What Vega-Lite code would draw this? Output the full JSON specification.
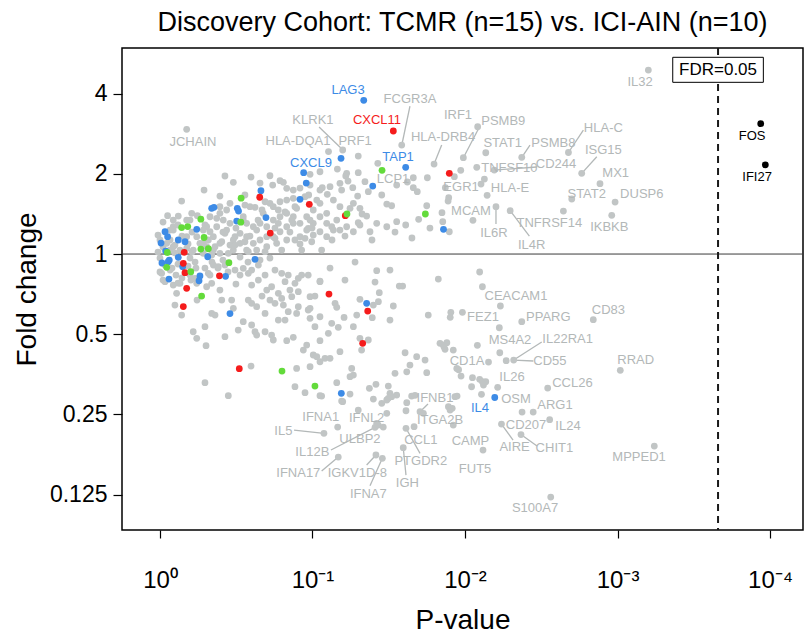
{
"$schema":"https://vega.github.io/schema/vega-lite/v6.json",
"width":681,"height":482,
"autosize":{"type":"none"},
"padding":{"left":122,"top":48,"right":1,"bottom":110},
"background":"white",
"title":{"text":"Discovery Cohort: TCMR (n=15) vs. ICI-AIN (n=10)","fontSize":27,"fontWeight":"normal","font":"Liberation Sans","offset":10,"color":"black"},
"config":{"view":{"stroke":"black","strokeWidth":1.5},"font":"Liberation Sans","axis":{"grid":false,"domain":false,"tickColor":"black","labelColor":"black","titleColor":"black","labelFont":"Liberation Sans","titleFont":"Liberation Sans","titleFontWeight":"normal"}},
"resolve":{"scale":{"color":"independent"}},
"datasets":{
"pts":[
{"nlp":0.175,"lfc":1.555,"grp":"n"},{"nlp":1.585,"lfc":1.359,"grp":"n"},{"nlp":1.198,"lfc":1.297,"grp":"n"},{"nlp":1.105,"lfc":1.278,"grp":"n"},{"nlp":1.300,"lfc":1.222,"grp":"n"},{"nlp":1.797,"lfc":1.122,"grp":"n"},{"nlp":1.622,"lfc":0.898,"grp":"n"},{"nlp":2.083,"lfc":1.587,"grp":"n"},{"nlp":1.989,"lfc":1.201,"grp":"n"},{"nlp":2.136,"lfc":1.263,"grp":"n"},{"nlp":2.372,"lfc":1.206,"grp":"n"},{"nlp":2.678,"lfc":1.266,"grp":"n"},{"nlp":2.077,"lfc":1.081,"grp":"n"},{"nlp":2.192,"lfc":1.047,"grp":"n"},{"nlp":2.765,"lfc":1.006,"grp":"n"},{"nlp":2.885,"lfc":0.877,"grp":"n"},{"nlp":1.930,"lfc":0.964,"grp":"n"},{"nlp":2.145,"lfc":0.732,"grp":"n"},{"nlp":2.700,"lfc":0.686,"grp":"n"},{"nlp":2.984,"lfc":0.648,"grp":"n"},{"nlp":2.052,"lfc":0.420,"grp":"n"},{"nlp":2.645,"lfc":0.536,"grp":"n"},{"nlp":2.962,"lfc":0.483,"grp":"n"},{"nlp":2.203,"lfc":0.590,"grp":"n"},{"nlp":2.296,"lfc":0.540,"grp":"n"},{"nlp":3.202,"lfc":2.294,"grp":"n"},
{"nlp":2.232,"lfc":-0.648,"grp":"n"},{"nlp":1.983,"lfc":-0.727,"grp":"n"},{"nlp":2.372,"lfc":-0.844,"grp":"n"},{"nlp":2.841,"lfc":-0.819,"grp":"n"},{"nlp":2.225,"lfc":-0.919,"grp":"n"},{"nlp":2.319,"lfc":-1.322,"grp":"n"},{"nlp":2.270,"lfc":-1.330,"grp":"n"},{"nlp":2.154,"lfc":-1.347,"grp":"n"},{"nlp":3.018,"lfc":-1.450,"grp":"n"},{"nlp":2.214,"lfc":-1.662,"grp":"n"},{"nlp":2.542,"lfc":-1.671,"grp":"n"},{"nlp":2.108,"lfc":-1.749,"grp":"n"},{"nlp":2.447,"lfc":-1.970,"grp":"n"},{"nlp":2.374,"lfc":-1.970,"grp":"n"},{"nlp":2.555,"lfc":-2.066,"grp":"n"},{"nlp":2.239,"lfc":-2.120,"grp":"n"},{"nlp":2.367,"lfc":-2.251,"grp":"n"},{"nlp":2.118,"lfc":-2.444,"grp":"n"},{"nlp":3.241,"lfc":-2.394,"grp":"n"},{"nlp":2.562,"lfc":-3.030,"grp":"n"},{"nlp":1.705,"lfc":-1.966,"grp":"n"},{"nlp":1.727,"lfc":-1.986,"grp":"n"},{"nlp":1.666,"lfc":-2.153,"grp":"n"},{"nlp":1.613,"lfc":-2.173,"grp":"n"},{"nlp":1.595,"lfc":-2.415,"grp":"n"},{"nlp":1.165,"lfc":-2.157,"grp":"n"},{"nlp":1.431,"lfc":-2.132,"grp":"n"},{"nlp":1.464,"lfc":-2.157,"grp":"n"},{"nlp":1.075,"lfc":-2.236,"grp":"n"},{"nlp":1.410,"lfc":-2.161,"grp":"n"},{"nlp":1.169,"lfc":-2.531,"grp":"n"},{"nlp":1.416,"lfc":-2.506,"grp":"n"},{"nlp":1.458,"lfc":-2.547,"grp":"n"},
{"nlp":0.142,"lfc":0.661,"grp":"n"},{"nlp":0.050,"lfc":0.478,"grp":"n"},{"nlp":0.087,"lfc":0.424,"grp":"n"},{"nlp":0.208,"lfc":0.507,"grp":"n"},{"nlp":0.245,"lfc":0.478,"grp":"n"},{"nlp":0.306,"lfc":0.340,"grp":"n"},{"nlp":0.372,"lfc":0.445,"grp":"n"},{"nlp":0.393,"lfc":0.507,"grp":"n"},{"nlp":0.459,"lfc":0.632,"grp":"n"},{"nlp":0.481,"lfc":0.894,"grp":"n"},{"nlp":0.597,"lfc":0.960,"grp":"n"},{"nlp":0.721,"lfc":0.976,"grp":"n"},{"nlp":0.739,"lfc":0.860,"grp":"n"},{"nlp":0.787,"lfc":0.914,"grp":"n"},{"nlp":0.809,"lfc":0.894,"grp":"n"},{"nlp":0.831,"lfc":0.819,"grp":"n"},{"nlp":0.623,"lfc":0.582,"grp":"n"},{"nlp":0.721,"lfc":0.632,"grp":"n"},{"nlp":0.743,"lfc":0.590,"grp":"n"},{"nlp":0.787,"lfc":0.652,"grp":"n"},{"nlp":0.831,"lfc":0.673,"grp":"n"},{"nlp":0.874,"lfc":0.695,"grp":"n"},{"nlp":0.896,"lfc":0.570,"grp":"n"},{"nlp":0.984,"lfc":0.994,"grp":"n"},{"nlp":0.975,"lfc":0.736,"grp":"n"},{"nlp":1.028,"lfc":0.673,"grp":"n"},{"nlp":1.064,"lfc":0.827,"grp":"n"},{"nlp":1.097,"lfc":0.744,"grp":"n"},{"nlp":1.163,"lfc":1.060,"grp":"n"},{"nlp":1.180,"lfc":0.882,"grp":"n"},{"nlp":1.191,"lfc":0.798,"grp":"n"},{"nlp":1.218,"lfc":0.973,"grp":"n"},{"nlp":1.233,"lfc":0.910,"grp":"n"},{"nlp":1.264,"lfc":0.827,"grp":"n"},{"nlp":1.300,"lfc":1.014,"grp":"n"},{"nlp":1.296,"lfc":0.723,"grp":"n"},{"nlp":1.344,"lfc":0.902,"grp":"n"},{"nlp":1.366,"lfc":0.777,"grp":"n"},{"nlp":1.428,"lfc":1.131,"grp":"n"},{"nlp":1.454,"lfc":0.736,"grp":"n"},{"nlp":1.487,"lfc":0.623,"grp":"n"},{"nlp":1.519,"lfc":0.602,"grp":"n"},{"nlp":1.552,"lfc":0.403,"grp":"n"},{"nlp":1.611,"lfc":0.362,"grp":"n"},{"nlp":1.661,"lfc":0.951,"grp":"n"},{"nlp":1.661,"lfc":0.827,"grp":"n"},{"nlp":1.687,"lfc":0.777,"grp":"n"},{"nlp":1.753,"lfc":0.951,"grp":"n"},{"nlp":1.749,"lfc":0.602,"grp":"n"},{"nlp":1.696,"lfc":0.433,"grp":"n"},{"nlp":1.849,"lfc":0.515,"grp":"n"},{"nlp":1.854,"lfc":0.403,"grp":"n"},{"nlp":1.897,"lfc":0.278,"grp":"n"},{"nlp":1.871,"lfc":0.827,"grp":"n"},{"nlp":1.893,"lfc":0.702,"grp":"n"},{"nlp":1.889,"lfc":0.661,"grp":"n"},{"nlp":1.972,"lfc":1.044,"grp":"n"},{"nlp":2.127,"lfc":0.935,"grp":"n"},{"nlp":2.105,"lfc":0.873,"grp":"n"},
{"nlp":1.300,"lfc":0.390,"grp":"n"},{"nlp":1.311,"lfc":0.362,"grp":"n"},{"nlp":1.355,"lfc":0.474,"grp":"n"},{"nlp":1.377,"lfc":0.278,"grp":"n"},{"nlp":1.421,"lfc":0.383,"grp":"n"},{"nlp":1.487,"lfc":0.340,"grp":"n"},{"nlp":1.246,"lfc":0.570,"grp":"n"},{"nlp":1.137,"lfc":0.299,"grp":"n"},{"nlp":1.093,"lfc":0.383,"grp":"n"},{"nlp":1.049,"lfc":0.278,"grp":"n"},{"nlp":0.962,"lfc":0.299,"grp":"n"},{"nlp":0.918,"lfc":0.383,"grp":"n"},{"nlp":0.874,"lfc":0.465,"grp":"n"},{"nlp":0.831,"lfc":0.340,"grp":"n"},{"nlp":0.787,"lfc":0.278,"grp":"n"},{"nlp":0.743,"lfc":0.216,"grp":"n"},{"nlp":0.700,"lfc":0.216,"grp":"n"},{"nlp":0.656,"lfc":0.175,"grp":"n"},{"nlp":0.612,"lfc":0.133,"grp":"n"},{"nlp":0.568,"lfc":0.216,"grp":"n"},{"nlp":0.525,"lfc":0.133,"grp":"n"},{"nlp":0.481,"lfc":0.175,"grp":"n"},{"nlp":0.437,"lfc":0.299,"grp":"n"},{"nlp":0.393,"lfc":0.133,"grp":"n"},{"nlp":0.350,"lfc":0.216,"grp":"n"},{"nlp":0.306,"lfc":0.091,"grp":"n"},{"nlp":0.262,"lfc":0.133,"grp":"n"},{"nlp":0.218,"lfc":0.050,"grp":"n"},{"nlp":0.175,"lfc":0.071,"grp":"n"},{"nlp":0.131,"lfc":0.050,"grp":"n"},{"nlp":0.087,"lfc":0.091,"grp":"n"},
{"nlp":0.459,"lfc":0.383,"grp":"n"},{"nlp":0.415,"lfc":0.424,"grp":"n"},{"nlp":0.372,"lfc":0.340,"grp":"n"},{"nlp":0.328,"lfc":0.278,"grp":"n"},{"nlp":0.284,"lfc":0.299,"grp":"n"},{"nlp":0.568,"lfc":0.383,"grp":"n"},{"nlp":0.612,"lfc":0.340,"grp":"n"},{"nlp":0.656,"lfc":0.383,"grp":"n"},{"nlp":0.700,"lfc":0.340,"grp":"n"},{"nlp":0.743,"lfc":0.424,"grp":"n"},{"nlp":0.787,"lfc":0.465,"grp":"n"},{"nlp":0.831,"lfc":0.507,"grp":"n"},{"nlp":0.874,"lfc":0.383,"grp":"n"},{"nlp":0.962,"lfc":0.465,"grp":"n"},{"nlp":1.005,"lfc":0.383,"grp":"n"},{"nlp":1.049,"lfc":0.465,"grp":"n"},{"nlp":1.093,"lfc":0.507,"grp":"n"},{"nlp":1.159,"lfc":0.424,"grp":"n"},{"nlp":1.180,"lfc":0.299,"grp":"n"},{"nlp":1.224,"lfc":0.340,"grp":"n"},{"nlp":1.268,"lfc":0.278,"grp":"n"},{"nlp":1.093,"lfc":0.216,"grp":"n"},{"nlp":1.005,"lfc":0.237,"grp":"n"},{"nlp":0.918,"lfc":0.216,"grp":"n"},{"nlp":0.831,"lfc":0.175,"grp":"n"},{"nlp":0.765,"lfc":0.133,"grp":"n"},{"nlp":0.700,"lfc":0.091,"grp":"n"},{"nlp":0.634,"lfc":0.050,"grp":"n"},{"nlp":0.568,"lfc":0.050,"grp":"n"},{"nlp":0.481,"lfc":0.050,"grp":"n"},{"nlp":0.393,"lfc":0.009,"grp":"n"},{"nlp":0.350,"lfc":0.050,"grp":"n"},{"nlp":0.459,"lfc":0.112,"grp":"n"},{"nlp":0.677,"lfc":0.507,"grp":"n"},{"nlp":0.590,"lfc":0.590,"grp":"n"},{"nlp":0.546,"lfc":0.465,"grp":"n"},{"nlp":0.437,"lfc":0.549,"grp":"n"},{"nlp":0.393,"lfc":0.590,"grp":"n"},{"nlp":0.328,"lfc":0.465,"grp":"n"},{"nlp":0.175,"lfc":0.424,"grp":"n"},{"nlp":0.087,"lfc":0.340,"grp":"n"},{"nlp":0.066,"lfc":0.175,"grp":"n"},{"nlp":0.175,"lfc":0.216,"grp":"n"},{"nlp":0.241,"lfc":0.216,"grp":"n"},{"nlp":0.284,"lfc":0.133,"grp":"n"},{"nlp":0.044,"lfc":0.133,"grp":"n"},
{"nlp":-0.013,"lfc":0.237,"grp":"n"},{"nlp":0.0,"lfc":0.175,"grp":"n"},{"nlp":0.020,"lfc":0.087,"grp":"n"},{"nlp":-0.013,"lfc":0.025,"grp":"n"},{"nlp":0.066,"lfc":0.050,"grp":"n"},{"nlp":0.098,"lfc":0.012,"grp":"n"},{"nlp":0.0,"lfc":-0.050,"grp":"n"},{"nlp":0.033,"lfc":-0.137,"grp":"n"},{"nlp":0.079,"lfc":-0.175,"grp":"n"},{"nlp":0.118,"lfc":-0.125,"grp":"n"},{"nlp":0.197,"lfc":-0.050,"grp":"n"},{"nlp":0.230,"lfc":-0.100,"grp":"n"},{"nlp":0.184,"lfc":-0.150,"grp":"n"},{"nlp":0.210,"lfc":0.025,"grp":"n"},{"nlp":0.105,"lfc":-0.262,"grp":"n"},{"nlp":0.0,"lfc":-0.224,"grp":"n"},{"nlp":0.020,"lfc":-0.324,"grp":"n"},{"nlp":0.118,"lfc":-0.362,"grp":"n"},{"nlp":0.203,"lfc":-0.324,"grp":"n"},{"nlp":0.295,"lfc":-0.175,"grp":"n"},{"nlp":0.341,"lfc":-0.100,"grp":"n"},{"nlp":0.380,"lfc":-0.175,"grp":"n"},{"nlp":0.328,"lfc":-0.262,"grp":"n"},{"nlp":0.413,"lfc":-0.075,"grp":"n"},{"nlp":0.525,"lfc":-0.037,"grp":"n"},{"nlp":0.577,"lfc":-0.100,"grp":"n"},{"nlp":0.656,"lfc":-0.075,"grp":"n"},{"nlp":0.721,"lfc":-0.050,"grp":"n"},{"nlp":0.098,"lfc":0.112,"grp":"n"},{"nlp":0.144,"lfc":0.224,"grp":"n"},{"nlp":0.184,"lfc":0.125,"grp":"n"},{"nlp":0.066,"lfc":0.299,"grp":"n"},{"nlp":0.210,"lfc":0.274,"grp":"n"},
{"nlp":0.011,"lfc":-0.241,"grp":"n"},{"nlp":0.033,"lfc":-0.345,"grp":"n"},{"nlp":0.087,"lfc":-0.387,"grp":"n"},{"nlp":0.109,"lfc":-0.490,"grp":"n"},{"nlp":0.142,"lfc":-0.761,"grp":"n"},{"nlp":0.131,"lfc":-0.365,"grp":"n"},{"nlp":0.197,"lfc":-0.262,"grp":"n"},{"nlp":0.230,"lfc":-0.303,"grp":"n"},{"nlp":0.241,"lfc":-0.365,"grp":"n"},{"nlp":0.317,"lfc":-0.241,"grp":"n"},{"nlp":0.339,"lfc":-0.365,"grp":"n"},{"nlp":0.306,"lfc":-0.408,"grp":"n"},{"nlp":0.350,"lfc":-0.137,"grp":"n"},{"nlp":0.382,"lfc":-0.158,"grp":"n"},{"nlp":0.426,"lfc":-0.137,"grp":"n"},{"nlp":0.492,"lfc":-0.200,"grp":"n"},{"nlp":0.525,"lfc":-0.262,"grp":"n"},{"nlp":0.546,"lfc":-0.178,"grp":"n"},{"nlp":0.579,"lfc":-0.241,"grp":"n"},{"nlp":0.601,"lfc":-0.200,"grp":"n"},{"nlp":0.645,"lfc":-0.137,"grp":"n"},{"nlp":0.689,"lfc":-0.262,"grp":"n"},{"nlp":0.754,"lfc":-0.200,"grp":"n"},{"nlp":0.798,"lfc":-0.241,"grp":"n"},{"nlp":0.820,"lfc":-0.345,"grp":"n"},{"nlp":0.841,"lfc":-0.262,"grp":"n"},{"nlp":0.885,"lfc":-0.365,"grp":"n"},{"nlp":0.907,"lfc":-0.303,"grp":"n"},{"nlp":0.972,"lfc":-0.262,"grp":"n"},{"nlp":1.049,"lfc":-0.345,"grp":"n"},{"nlp":0.645,"lfc":-0.324,"grp":"n"},{"nlp":0.732,"lfc":-0.408,"grp":"n"},{"nlp":0.776,"lfc":-0.490,"grp":"n"},{"nlp":0.700,"lfc":-0.449,"grp":"n"},{"nlp":0.601,"lfc":-0.387,"grp":"n"},{"nlp":0.579,"lfc":-0.574,"grp":"n"},{"nlp":0.601,"lfc":-0.615,"grp":"n"},{"nlp":0.634,"lfc":-0.657,"grp":"n"},{"nlp":0.689,"lfc":-0.740,"grp":"n"},{"nlp":0.721,"lfc":-0.574,"grp":"n"},{"nlp":0.754,"lfc":-0.615,"grp":"n"},{"nlp":0.798,"lfc":-0.553,"grp":"n"},{"nlp":0.809,"lfc":-0.636,"grp":"n"},{"nlp":0.841,"lfc":-0.719,"grp":"n"},{"nlp":0.907,"lfc":-0.657,"grp":"n"},{"nlp":0.896,"lfc":-0.740,"grp":"n"},{"nlp":0.972,"lfc":-0.698,"grp":"n"},{"nlp":0.984,"lfc":-0.532,"grp":"n"},{"nlp":0.907,"lfc":-0.470,"grp":"n"},{"nlp":0.864,"lfc":-0.532,"grp":"n"},{"nlp":0.405,"lfc":-0.574,"grp":"n"},{"nlp":0.339,"lfc":-0.740,"grp":"n"},{"nlp":0.361,"lfc":-0.761,"grp":"n"},{"nlp":0.218,"lfc":-0.969,"grp":"n"},{"nlp":0.295,"lfc":-0.906,"grp":"n"},{"nlp":0.481,"lfc":-0.677,"grp":"n"},{"nlp":0.470,"lfc":-0.574,"grp":"n"},{"nlp":0.546,"lfc":-0.844,"grp":"n"},{"nlp":0.513,"lfc":-0.948,"grp":"n"},{"nlp":0.601,"lfc":-0.885,"grp":"n"},{"nlp":0.623,"lfc":-0.969,"grp":"n"},{"nlp":0.689,"lfc":-0.969,"grp":"n"},{"nlp":0.776,"lfc":-0.823,"grp":"n"},{"nlp":0.820,"lfc":-0.823,"grp":"n"},{"nlp":0.426,"lfc":-1.031,"grp":"n"},{"nlp":0.241,"lfc":-1.051,"grp":"n"},
{"nlp":1.421,"lfc":-0.208,"grp":"n"},{"nlp":1.410,"lfc":-0.349,"grp":"n"},{"nlp":1.438,"lfc":-0.482,"grp":"n"},{"nlp":1.311,"lfc":-0.565,"grp":"n"},{"nlp":1.399,"lfc":-0.636,"grp":"n"},{"nlp":1.432,"lfc":-0.594,"grp":"n"},{"nlp":1.530,"lfc":-0.648,"grp":"n"},{"nlp":1.508,"lfc":-0.823,"grp":"n"},{"nlp":1.392,"lfc":-0.794,"grp":"n"},{"nlp":1.569,"lfc":-0.399,"grp":"n"},{"nlp":1.591,"lfc":-0.399,"grp":"n"},{"nlp":1.825,"lfc":-0.312,"grp":"n"},{"nlp":1.759,"lfc":-0.761,"grp":"n"},{"nlp":1.049,"lfc":-0.337,"grp":"n"},{"nlp":0.929,"lfc":-0.262,"grp":"n"},{"nlp":1.159,"lfc":-0.665,"grp":"n"},{"nlp":1.148,"lfc":-0.615,"grp":"n"},{"nlp":1.207,"lfc":-0.790,"grp":"n"},{"nlp":1.268,"lfc":-0.906,"grp":"n"},{"nlp":1.290,"lfc":-0.761,"grp":"n"},{"nlp":1.311,"lfc":-1.051,"grp":"n"},{"nlp":1.366,"lfc":-1.072,"grp":"n"},{"nlp":1.322,"lfc":-1.197,"grp":"n"},{"nlp":1.126,"lfc":-0.864,"grp":"n"},{"nlp":1.169,"lfc":-0.914,"grp":"n"},{"nlp":1.104,"lfc":-0.989,"grp":"n"},{"nlp":1.049,"lfc":-1.081,"grp":"n"},{"nlp":1.016,"lfc":-0.906,"grp":"n"},{"nlp":1.049,"lfc":-0.782,"grp":"n"},{"nlp":0.984,"lfc":-0.802,"grp":"n"},{"nlp":0.984,"lfc":-0.677,"grp":"n"},{"nlp":0.940,"lfc":-1.197,"grp":"n"},{"nlp":0.962,"lfc":-1.135,"grp":"n"},{"nlp":1.005,"lfc":-1.259,"grp":"n"},{"nlp":1.028,"lfc":-1.280,"grp":"n"},{"nlp":1.049,"lfc":-1.343,"grp":"n"},{"nlp":1.082,"lfc":-1.301,"grp":"n"},{"nlp":1.115,"lfc":-1.301,"grp":"n"},{"nlp":1.180,"lfc":-1.218,"grp":"n"},{"nlp":0.984,"lfc":-1.405,"grp":"n"},{"nlp":0.896,"lfc":-1.426,"grp":"n"},{"nlp":0.885,"lfc":-1.654,"grp":"n"},{"nlp":0.951,"lfc":-1.729,"grp":"n"},{"nlp":1.049,"lfc":-1.766,"grp":"n"},{"nlp":1.159,"lfc":-1.604,"grp":"n"},{"nlp":1.246,"lfc":-1.746,"grp":"n"},{"nlp":1.198,"lfc":-1.841,"grp":"n"},{"nlp":1.268,"lfc":-1.509,"grp":"n"},{"nlp":1.257,"lfc":-1.426,"grp":"n"},{"nlp":1.246,"lfc":-1.529,"grp":"n"},{"nlp":1.300,"lfc":-1.945,"grp":"n"},{"nlp":1.373,"lfc":-1.675,"grp":"n"},{"nlp":1.416,"lfc":-1.625,"grp":"n"},{"nlp":1.399,"lfc":-1.808,"grp":"n"},{"nlp":1.454,"lfc":-1.862,"grp":"n"},{"nlp":1.487,"lfc":-1.986,"grp":"n"},{"nlp":1.497,"lfc":-1.646,"grp":"n"},{"nlp":1.508,"lfc":-1.737,"grp":"n"},{"nlp":1.487,"lfc":-1.820,"grp":"n"},{"nlp":1.552,"lfc":-1.758,"grp":"n"},{"nlp":1.519,"lfc":-1.779,"grp":"n"},{"nlp":1.541,"lfc":-1.488,"grp":"n"},{"nlp":1.618,"lfc":-1.468,"grp":"n"},{"nlp":1.607,"lfc":-1.231,"grp":"n"},{"nlp":1.683,"lfc":-1.280,"grp":"n"},{"nlp":1.738,"lfc":-1.322,"grp":"n"},{"nlp":1.639,"lfc":-1.384,"grp":"n"},{"nlp":1.749,"lfc":-1.480,"grp":"n"},{"nlp":1.672,"lfc":-1.762,"grp":"n"},{"nlp":1.618,"lfc":-1.854,"grp":"n"},{"nlp":1.613,"lfc":-1.954,"grp":"n"},{"nlp":1.421,"lfc":-2.111,"grp":"n"},{"nlp":0.295,"lfc":-1.604,"grp":"n"},{"nlp":0.448,"lfc":-1.766,"grp":"n"},{"nlp":0.597,"lfc":-1.397,"grp":"n"},{"nlp":1.836,"lfc":-1.113,"grp":"n"},{"nlp":1.869,"lfc":-1.188,"grp":"n"},{"nlp":1.858,"lfc":-1.135,"grp":"n"},{"nlp":1.923,"lfc":-1.197,"grp":"n"},{"nlp":1.946,"lfc":-1.426,"grp":"n"},{"nlp":1.934,"lfc":-1.779,"grp":"n"},{"nlp":1.891,"lfc":-1.904,"grp":"n"},{"nlp":1.902,"lfc":-1.945,"grp":"n"},{"nlp":1.923,"lfc":-2.132,"grp":"n"},{"nlp":0.831,"lfc":-1.081,"grp":"n"},{"nlp":0.874,"lfc":-1.039,"grp":"n"},{"nlp":0.743,"lfc":-1.072,"grp":"n"},{"nlp":0.732,"lfc":-1.010,"grp":"n"},{"nlp":0.634,"lfc":-1.010,"grp":"n"},{"nlp":0.302,"lfc":-1.143,"grp":"n"},
{"nlp":2.096,"lfc":-0.224,"grp":"n"},{"nlp":2.114,"lfc":-0.408,"grp":"n"},{"nlp":1.907,"lfc":-0.727,"grp":"n"},{"nlp":1.903,"lfc":-0.789,"grp":"n"},{"nlp":1.881,"lfc":-1.106,"grp":"n"},{"nlp":1.862,"lfc":-1.156,"grp":"n"},{"nlp":2.081,"lfc":-1.138,"grp":"n"},{"nlp":2.228,"lfc":-1.231,"grp":"n"},{"nlp":1.958,"lfc":-1.443,"grp":"n"},{"nlp":1.974,"lfc":-1.521,"grp":"n"},{"nlp":2.049,"lfc":-1.542,"grp":"n"},{"nlp":2.096,"lfc":-1.562,"grp":"n"},{"nlp":2.114,"lfc":-1.592,"grp":"n"},{"nlp":2.136,"lfc":-1.592,"grp":"n"},{"nlp":2.121,"lfc":-1.633,"grp":"n"},{"nlp":2.043,"lfc":-1.655,"grp":"n"},{"nlp":1.948,"lfc":-1.771,"grp":"n"},{"nlp":1.916,"lfc":-1.924,"grp":"n"},
{"nlp":1.060,"lfc":-1.771,"grp":"n"},{"nlp":1.191,"lfc":-1.833,"grp":"n"},{"nlp":1.497,"lfc":-1.799,"grp":"n"},{"nlp":1.650,"lfc":-1.771,"grp":"n"},
{"nlp":1.049,"lfc":1.026,"grp":"n"},{"nlp":1.224,"lfc":1.006,"grp":"n"},{"nlp":1.552,"lfc":0.860,"grp":"n"},{"nlp":1.049,"lfc":0.632,"grp":"n"},{"nlp":1.005,"lfc":0.549,"grp":"n"},{"nlp":1.137,"lfc":0.673,"grp":"n"},{"nlp":1.180,"lfc":0.590,"grp":"n"},{"nlp":1.268,"lfc":0.632,"grp":"n"},{"nlp":1.311,"lfc":0.570,"grp":"n"},{"nlp":1.115,"lfc":0.840,"grp":"n"},{"nlp":1.049,"lfc":0.798,"grp":"n"},{"nlp":1.126,"lfc":0.340,"grp":"n"},
{"nlp":0.120,"lfc":0.474,"grp":"n"},{"nlp":0.874,"lfc":0.798,"grp":"n"},{"nlp":0.984,"lfc":0.860,"grp":"n"},{"nlp":0.557,"lfc":0.611,"grp":"n"},{"nlp":0.689,"lfc":0.652,"grp":"n"},{"nlp":0.776,"lfc":0.549,"grp":"n"},{"nlp":0.885,"lfc":0.590,"grp":"n"},{"nlp":0.951,"lfc":0.715,"grp":"n"},{"nlp":0.984,"lfc":0.424,"grp":"n"},{"nlp":0.972,"lfc":0.320,"grp":"n"},{"nlp":0.864,"lfc":0.424,"grp":"n"},{"nlp":0.776,"lfc":0.383,"grp":"n"},{"nlp":0.634,"lfc":0.299,"grp":"n"},{"nlp":0.546,"lfc":0.424,"grp":"n"},{"nlp":0.525,"lfc":0.258,"grp":"n"},{"nlp":0.492,"lfc":0.216,"grp":"n"},{"nlp":0.426,"lfc":0.258,"grp":"n"},{"nlp":0.405,"lfc":0.153,"grp":"n"},{"nlp":0.317,"lfc":0.175,"grp":"n"},{"nlp":0.361,"lfc":0.091,"grp":"n"},{"nlp":0.492,"lfc":0.112,"grp":"n"},{"nlp":0.557,"lfc":0.153,"grp":"n"},{"nlp":0.754,"lfc":0.196,"grp":"n"},{"nlp":0.885,"lfc":0.175,"grp":"n"},{"nlp":0.951,"lfc":0.196,"grp":"n"},{"nlp":0.995,"lfc":0.153,"grp":"n"},{"nlp":0.284,"lfc":0.009,"grp":"n"},{"nlp":0.087,"lfc":0.299,"grp":"n"},{"nlp":0.339,"lfc":-0.012,"grp":"n"},{"nlp":0.448,"lfc":0.009,"grp":"n"},{"nlp":0.579,"lfc":0.029,"grp":"n"},{"nlp":0.689,"lfc":0.029,"grp":"n"},{"nlp":0.798,"lfc":0.050,"grp":"n"},{"nlp":0.929,"lfc":0.050,"grp":"n"},{"nlp":1.060,"lfc":0.050,"grp":"n"},
{"nlp":0.020,"lfc":0.399,"grp":"n"},{"nlp":0.118,"lfc":0.362,"grp":"n"},{"nlp":0.197,"lfc":0.424,"grp":"n"},{"nlp":0.295,"lfc":0.362,"grp":"n"},{"nlp":0.413,"lfc":0.274,"grp":"n"},{"nlp":0.498,"lfc":0.324,"grp":"n"},{"nlp":0.590,"lfc":0.224,"grp":"n"},{"nlp":0.643,"lfc":0.424,"grp":"n"},{"nlp":0.754,"lfc":0.324,"grp":"n"},{"nlp":0.852,"lfc":0.274,"grp":"n"},{"nlp":0.918,"lfc":0.125,"grp":"n"},{"nlp":0.997,"lfc":0.324,"grp":"n"},{"nlp":1.128,"lfc":0.175,"grp":"n"},{"nlp":1.213,"lfc":0.224,"grp":"n"},{"nlp":1.325,"lfc":0.499,"grp":"n"},{"nlp":1.390,"lfc":0.175,"grp":"n"},{"nlp":1.541,"lfc":0.274,"grp":"n"},{"nlp":1.652,"lfc":0.200,"grp":"n"},{"nlp":1.770,"lfc":0.324,"grp":"n"},{"nlp":0.820,"lfc":0.524,"grp":"n"},{"nlp":0.669,"lfc":0.549,"grp":"n"},{"nlp":0.557,"lfc":0.736,"grp":"n"},{"nlp":0.393,"lfc":0.723,"grp":"n"},{"nlp":0.918,"lfc":0.823,"grp":"n"},{"nlp":0.656,"lfc":0.885,"grp":"n"},{"nlp":0.426,"lfc":0.973,"grp":"n"},{"nlp":0.289,"lfc":0.798,"grp":"n"},
{"nlp":0.066,"lfc":-0.200,"grp":"n"},{"nlp":0.144,"lfc":-0.299,"grp":"n"},{"nlp":0.236,"lfc":-0.175,"grp":"n"},{"nlp":0.446,"lfc":-0.224,"grp":"n"},{"nlp":0.498,"lfc":-0.374,"grp":"n"},{"nlp":0.669,"lfc":-0.524,"grp":"n"},{"nlp":0.852,"lfc":-0.449,"grp":"n"},{"nlp":1.016,"lfc":-0.524,"grp":"n"},{"nlp":1.115,"lfc":-0.175,"grp":"n"},{"nlp":1.213,"lfc":-0.324,"grp":"n"},{"nlp":1.279,"lfc":-0.100,"grp":"n"},{"nlp":1.508,"lfc":-0.200,"grp":"n"},{"nlp":0.393,"lfc":-0.449,"grp":"n"},{"nlp":0.243,"lfc":-0.574,"grp":"n"},{"nlp":0.098,"lfc":-0.636,"grp":"n"},
{"nlp":1.336,"lfc":1.916,"grp":"b"},{"nlp":1.611,"lfc":1.081,"grp":"b"},{"nlp":0.942,"lfc":1.014,"grp":"b"},{"nlp":1.187,"lfc":1.193,"grp":"b"},{"nlp":0.959,"lfc":0.885,"grp":"b"},{"nlp":1.395,"lfc":0.848,"grp":"b"},{"nlp":0.918,"lfc":0.682,"grp":"b"},{"nlp":0.662,"lfc":0.789,"grp":"b"},{"nlp":0.339,"lfc":0.570,"grp":"b"},{"nlp":0.354,"lfc":0.582,"grp":"b"},{"nlp":0.507,"lfc":0.570,"grp":"b"},{"nlp":0.515,"lfc":0.536,"grp":"b"},{"nlp":0.695,"lfc":0.455,"grp":"b"},{"nlp":0.503,"lfc":0.411,"grp":"b"},{"nlp":1.859,"lfc":0.308,"grp":"b"},{"nlp":0.241,"lfc":0.308,"grp":"b"},{"nlp":0.033,"lfc":0.278,"grp":"b"},{"nlp":0.050,"lfc":0.216,"grp":"b"},{"nlp":0.120,"lfc":0.175,"grp":"b"},{"nlp":0.164,"lfc":0.153,"grp":"b"},{"nlp":0.037,"lfc":0.037,"grp":"b"},{"nlp":0.313,"lfc":-0.034,"grp":"b"},{"nlp":0.061,"lfc":-0.075,"grp":"b"},{"nlp":0.120,"lfc":-0.041,"grp":"b"},{"nlp":0.149,"lfc":-0.158,"grp":"b"},{"nlp":0.054,"lfc":-0.096,"grp":"b"},{"nlp":0.262,"lfc":-0.274,"grp":"b"},{"nlp":0.256,"lfc":-0.333,"grp":"b"},{"nlp":0.059,"lfc":-0.312,"grp":"b"},{"nlp":0.430,"lfc":-0.278,"grp":"b"},{"nlp":0.623,"lfc":-0.066,"grp":"b"},{"nlp":0.459,"lfc":-0.742,"grp":"b"},{"nlp":1.189,"lfc":-1.737,"grp":"b"},{"nlp":1.355,"lfc":-0.615,"grp":"b"},{"nlp":2.195,"lfc":-1.789,"grp":"b"},{"nlp":0.007,"lfc":0.137,"grp":"b"},{"nlp":0.013,"lfc":-0.112,"grp":"b"},
{"nlp":1.530,"lfc":1.534,"grp":"r"},{"nlp":1.897,"lfc":1.007,"grp":"r"},{"nlp":0.979,"lfc":0.620,"grp":"r"},{"nlp":0.654,"lfc":0.708,"grp":"r"},{"nlp":0.723,"lfc":0.262,"grp":"r"},{"nlp":1.215,"lfc":0.478,"grp":"r"},{"nlp":0.159,"lfc":0.021,"grp":"r"},{"nlp":0.153,"lfc":-0.116,"grp":"r"},{"nlp":0.164,"lfc":-0.233,"grp":"r"},{"nlp":0.175,"lfc":-0.428,"grp":"r"},{"nlp":0.153,"lfc":-0.655,"grp":"r"},{"nlp":0.390,"lfc":-0.271,"grp":"r"},{"nlp":1.108,"lfc":-0.499,"grp":"r"},{"nlp":1.362,"lfc":-0.711,"grp":"r"},{"nlp":1.329,"lfc":-1.113,"grp":"r"},{"nlp":0.520,"lfc":-1.430,"grp":"r"},
{"nlp":1.456,"lfc":1.044,"grp":"g"},{"nlp":0.532,"lfc":0.696,"grp":"g"},{"nlp":1.226,"lfc":0.499,"grp":"g"},{"nlp":1.740,"lfc":0.499,"grp":"g"},{"nlp":0.268,"lfc":0.434,"grp":"g"},{"nlp":0.530,"lfc":0.397,"grp":"g"},{"nlp":0.142,"lfc":0.330,"grp":"g"},{"nlp":0.182,"lfc":0.343,"grp":"g"},{"nlp":0.289,"lfc":0.206,"grp":"g"},{"nlp":0.268,"lfc":0.062,"grp":"g"},{"nlp":0.317,"lfc":0.066,"grp":"g"},{"nlp":0.048,"lfc":0.019,"grp":"g"},{"nlp":0.044,"lfc":-0.166,"grp":"g"},{"nlp":0.202,"lfc":-0.221,"grp":"g"},{"nlp":0.452,"lfc":-0.108,"grp":"g"},{"nlp":0.273,"lfc":-0.524,"grp":"g"},{"nlp":0.800,"lfc":-1.459,"grp":"g"},{"nlp":1.016,"lfc":-1.646,"grp":"g"},
{"nlp":3.939,"lfc":1.625,"grp":"k"},{"nlp":3.969,"lfc":1.113,"grp":"k"}
],
"lab":[
{"t":"JCHAIN","lx":0.216,"ly":1.397,"c":"n"},
{"t":"LAG3","lx":1.233,"ly":2.045,"c":"b"},
{"t":"FCGR3A","lx":1.639,"ly":1.933,"c":"n","sx":1.639,"sy":1.845,"ex":1.587,"ey":1.372},
{"t":"KLRK1","lx":1.003,"ly":1.671,"c":"n","sx":1.043,"sy":1.584,"ex":1.193,"ey":1.309},
{"t":"CXCL11","lx":1.423,"ly":1.671,"c":"r"},
{"t":"HLA-DQA1","lx":0.905,"ly":1.409,"c":"n"},
{"t":"PRF1","lx":1.279,"ly":1.409,"c":"n"},
{"t":"HLA-DRB4","lx":1.856,"ly":1.459,"c":"n","sx":1.847,"sy":1.359,"ex":1.797,"ey":1.122},
{"t":"TAP1","lx":1.561,"ly":1.209,"c":"b"},
{"t":"CXCL9","lx":0.990,"ly":1.135,"c":"b"},
{"t":"IRF1","lx":1.954,"ly":1.733,"c":"n"},
{"t":"PSMB9","lx":2.251,"ly":1.658,"c":"n","sx":2.098,"sy":1.596,"ex":1.989,"ey":1.201},
{"t":"STAT1","lx":2.247,"ly":1.384,"c":"n"},
{"t":"PSMB8","lx":2.579,"ly":1.384,"c":"n","sx":2.426,"sy":1.359,"ex":2.372,"ey":1.206},
{"t":"HLA-C","lx":2.907,"ly":1.571,"c":"n","sx":2.776,"sy":1.546,"ex":2.678,"ey":1.266},
{"t":"TNFSF10","lx":2.291,"ly":1.072,"c":"n"},
{"t":"CD244","lx":2.597,"ly":1.122,"c":"n","sx":2.470,"sy":1.085,"ex":2.192,"ey":1.047},
{"t":"ISG15","lx":2.907,"ly":1.297,"c":"n","sx":2.864,"sy":1.213,"ex":2.765,"ey":1.006},
{"t":"MX1","lx":2.988,"ly":1.010,"c":"n"},
{"t":"EGR1","lx":1.974,"ly":0.835,"c":"n"},
{"t":"HLA-E","lx":2.295,"ly":0.823,"c":"n"},
{"t":"STAT2","lx":2.798,"ly":0.748,"c":"n"},
{"t":"DUSP6","lx":3.159,"ly":0.748,"c":"n"},
{"t":"MCAM","lx":2.039,"ly":0.536,"c":"n"},
{"t":"TNFRSF14","lx":2.553,"ly":0.387,"c":"n"},
{"t":"IKBKB","lx":2.946,"ly":0.337,"c":"n"},
{"t":"IL6R","lx":2.190,"ly":0.262,"c":"n","sx":2.203,"sy":0.374,"ex":2.203,"ey":0.590},
{"t":"IL4R","lx":2.437,"ly":0.112,"c":"n","sx":2.422,"sy":0.224,"ex":2.296,"ey":0.540},
{"t":"LCP1","lx":1.528,"ly":0.935,"c":"n"},
{"t":"IL32","lx":3.148,"ly":2.145,"c":"n"},
{"t":"FOS","lx":3.882,"ly":1.471,"c":"k"},
{"t":"IFI27","lx":3.915,"ly":0.960,"c":"k"},
{"t":"CEACAM1","lx":2.334,"ly":-0.524,"c":"n"},
{"t":"FEZ1","lx":2.118,"ly":-0.786,"c":"n"},
{"t":"PPARG","lx":2.546,"ly":-0.786,"c":"n"},
{"t":"CD83","lx":2.940,"ly":-0.698,"c":"n"},
{"t":"MS4A2","lx":2.295,"ly":-1.072,"c":"n"},
{"t":"IL22RA1","lx":2.673,"ly":-1.060,"c":"n","sx":2.503,"sy":-1.097,"ex":2.319,"ey":-1.322},
{"t":"CD55","lx":2.557,"ly":-1.334,"c":"n","sx":2.448,"sy":-1.334,"ex":2.319,"ey":-1.322},
{"t":"CD1A","lx":2.013,"ly":-1.334,"c":"n"},
{"t":"RRAD","lx":3.119,"ly":-1.322,"c":"n"},
{"t":"IL26","lx":2.308,"ly":-1.534,"c":"n"},
{"t":"CCL26","lx":2.704,"ly":-1.608,"c":"n"},
{"t":"OSM","lx":2.334,"ly":-1.808,"c":"n"},
{"t":"IL4","lx":2.098,"ly":-1.920,"c":"b"},
{"t":"ARG1","lx":2.590,"ly":-1.883,"c":"n"},
{"t":"IL24","lx":2.675,"ly":-2.145,"c":"n"},
{"t":"CD207","lx":2.400,"ly":-2.132,"c":"n"},
{"t":"AIRE","lx":2.325,"ly":-2.406,"c":"n","sx":2.315,"sy":-2.319,"ex":2.239,"ey":-2.120},
{"t":"CHIT1","lx":2.586,"ly":-2.419,"c":"n","sx":2.472,"sy":-2.394,"ex":2.367,"ey":-2.251},
{"t":"CAMP","lx":2.036,"ly":-2.332,"c":"n"},
{"t":"FUT5","lx":2.066,"ly":-2.675,"c":"n"},
{"t":"MPPED1","lx":3.141,"ly":-2.531,"c":"n"},
{"t":"S100A7","lx":2.459,"ly":-3.167,"c":"n"},
{"t":"IFNB1","lx":1.803,"ly":-1.789,"c":"n","sx":1.757,"sy":-1.870,"ex":1.705,"ey":-1.966},
{"t":"ITGA2B","lx":1.836,"ly":-2.070,"c":"n"},
{"t":"CCL1","lx":1.710,"ly":-2.313,"c":"n"},
{"t":"PTGDR2","lx":1.710,"ly":-2.581,"c":"n","sx":1.705,"sy":-2.485,"ex":1.613,"ey":-2.173},
{"t":"IGH","lx":1.622,"ly":-2.849,"c":"n","sx":1.613,"sy":-2.756,"ex":1.595,"ey":-2.415},
{"t":"IFNA1","lx":1.054,"ly":-2.029,"c":"n"},
{"t":"IFNL2","lx":1.355,"ly":-2.041,"c":"n"},
{"t":"ULBP2","lx":1.311,"ly":-2.301,"c":"n"},
{"t":"IL5","lx":0.809,"ly":-2.203,"c":"n","sx":0.879,"sy":-2.195,"ex":1.075,"ey":-2.236},
{"t":"IL12B","lx":0.999,"ly":-2.465,"c":"n","sx":1.121,"sy":-2.444,"ex":1.410,"ey":-2.161},
{"t":"IFNA17","lx":0.907,"ly":-2.727,"c":"n","sx":1.060,"sy":-2.706,"ex":1.169,"ey":-2.531},
{"t":"IGKV1D-8","lx":1.294,"ly":-2.734,"c":"n","sx":1.355,"sy":-2.631,"ex":1.416,"ey":-2.506},
{"t":"IFNA7","lx":1.366,"ly":-2.993,"c":"n","sx":1.377,"sy":-2.889,"ex":1.458,"ey":-2.547}
]
},
"layer":[
{"data":{"values":[{}]},"mark":{"type":"rule","color":"#3a3a3a","strokeWidth":1},
 "encoding":{"y":{"datum":0,"type":"quantitative","scale":{"domain":[-3.441,2.569],"nice":false,"zero":false},"title":"Fold change"}}},
{"data":{"values":[{}]},"mark":{"type":"rule","color":"#1a1a1a","strokeWidth":2,"strokeDash":[7,5]},
 "encoding":{"x":{"datum":3.659,"type":"quantitative","scale":{"domain":[-0.249,4.216],"nice":false,"zero":false},"title":"P-value"}}},
{"data":{"name":"lab"},"transform":[{"filter":"isValid(datum.sx)"}],"mark":{"type":"rule","color":"#b3b8b8","strokeWidth":1.3},
 "encoding":{"x":{"field":"sx","type":"quantitative","scale":{"domain":[-0.249,4.216],"nice":false,"zero":false},"title":"P-value"},"y":{"field":"sy","type":"quantitative","scale":{"domain":[-3.441,2.569],"nice":false,"zero":false},"title":"Fold change"},"x2":{"field":"ex"},"y2":{"field":"ey"}}},
{"data":{"name":"pts"},"transform":[{"filter":"datum.grp == 'n'"}],"mark":{"type":"circle","size":46,"opacity":1,"color":"#c1c5c5"},
 "encoding":{
  "x":{"field":"nlp","type":"quantitative","scale":{"domain":[-0.249,4.216],"nice":false,"zero":false},"title":"P-value",
   "axis":{"values":[0,1,2,3,4],"labelExpr":"'10' + ['⁰','⁻¹','⁻²','⁻³','⁻⁴'][datum.value]","tickSize":8,"tickWidth":1.2,"labelFontSize":24,"labelPadding":30,"titleFontSize":28,"titlePadding":14}},
  "y":{"field":"lfc","type":"quantitative","scale":{"domain":[-3.441,2.569],"nice":false,"zero":false},"title":"Fold change",
   "axis":{"values":[-3,-2,-1,0,1,2],"labelExpr":"['0.125','0.25','0.5','1','2','4'][datum.value+3]","tickSize":9,"tickWidth":1.2,"labelFontSize":23,"labelPadding":6,"titleFontSize":28,"titlePadding":8}}}},
{"data":{"name":"pts"},"transform":[{"filter":"datum.grp != 'n'"}],"mark":{"type":"circle","size":46,"opacity":1},
 "encoding":{
  "x":{"field":"nlp","type":"quantitative","scale":{"domain":[-0.249,4.216],"nice":false,"zero":false},"title":"P-value"},
  "y":{"field":"lfc","type":"quantitative","scale":{"domain":[-3.441,2.569],"nice":false,"zero":false},"title":"Fold change"},
  "color":{"field":"grp","type":"nominal","scale":{"domain":["b","r","g","k"],"range":["#3d8be6","#f51c1c","#63db3b","#000000"]},"legend":null}}},
{"data":{"name":"lab"},"mark":{"type":"text","fontSize":13,"font":"Liberation Sans","align":"center","baseline":"middle"},
 "encoding":{
  "x":{"field":"lx","type":"quantitative","scale":{"domain":[-0.249,4.216],"nice":false,"zero":false},"title":"P-value"},
  "y":{"field":"ly","type":"quantitative","scale":{"domain":[-3.441,2.569],"nice":false,"zero":false},"title":"Fold change"},
  "text":{"field":"t"},
  "color":{"field":"c","type":"nominal","scale":{"domain":["n","b","r","k"],"range":["#b3b8b8","#3d8be6","#f51c1c","#000000"]},"legend":null}}},
{"data":{"values":[{}]},"mark":{"type":"rect","fill":"white","stroke":"black","strokeWidth":1},
 "encoding":{"x":{"datum":3.362,"type":"quantitative","scale":{"domain":[-0.249,4.216],"nice":false,"zero":false},"title":"P-value"},"x2":{"datum":3.956},"y":{"datum":2.453,"type":"quantitative","scale":{"domain":[-3.441,2.569],"nice":false,"zero":false},"title":"Fold change"},"y2":{"datum":2.141}}},
{"data":{"values":[{"t":"FDR=0.05"}]},"mark":{"type":"text","fontSize":17,"font":"Liberation Sans","color":"black","align":"center","baseline":"middle"},
 "encoding":{"x":{"datum":3.659,"type":"quantitative","scale":{"domain":[-0.249,4.216],"nice":false,"zero":false},"title":"P-value"},"y":{"datum":2.297,"type":"quantitative","scale":{"domain":[-3.441,2.569],"nice":false,"zero":false},"title":"Fold change"},"text":{"field":"t"}}}
]
}
